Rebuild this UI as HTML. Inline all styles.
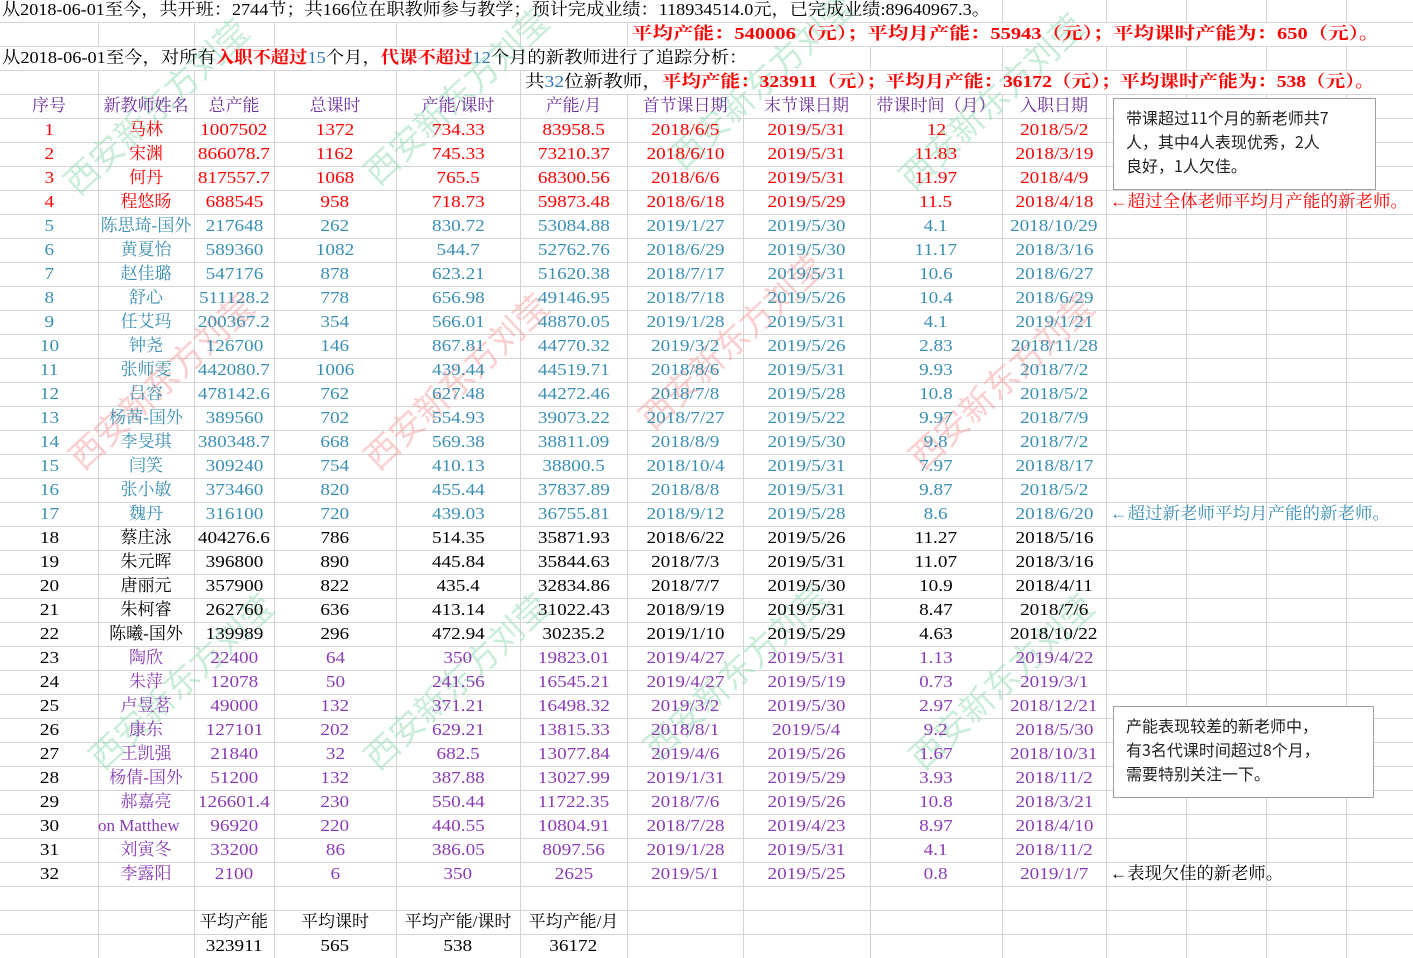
<!DOCTYPE html>
<html><head><meta charset="utf-8">
<style>
body{margin:0;width:1413px;height:958px;overflow:hidden;background:#fff;font-family:"Liberation Serif","Noto Serif CJK SC",serif;}
#sheet{position:relative;width:1413px;height:958px;overflow:hidden;}
.vl{position:absolute;top:0;width:1px;background:#d4d4d4;}
.hl{position:absolute;left:0;height:1px;background:#d4d4d4;width:1413px;}
.c{position:absolute;height:24px;line-height:24px;font-size:17px;text-align:center;white-space:nowrap;overflow:visible;}
.c span.n{display:inline-block;transform:scaleX(1.13);}
.t{position:absolute;height:24px;line-height:24px;font-size:17px;white-space:nowrap;transform-origin:0 50%;}
.wm{position:absolute;font-size:34px;white-space:nowrap;transform:translate(-50%,-50%) rotate(-43deg);font-family:"Noto Sans CJK SC",sans-serif;opacity:.55;pointer-events:none;}
.box{position:absolute;background:#fff;border:1px solid #a0a0a0;font-family:"Noto Sans CJK SC",sans-serif;font-size:16px;line-height:24px;padding:6px 12px;box-sizing:border-box;color:#222;white-space:nowrap;}
.r{color:#ff0000}.b{font-weight:bold}
</style></head><body>
<div id="sheet"></div>
<script>
const seq=["1","2","3","4","5","6","7","8","9","10","11","12","13","14","15","16","17","18","19","20","21","22","23","24","25","26","27","28","29","30","31","32"];
const names=["马林","宋渊","何丹","程悠旸","陈思琦-国外","黄夏怡","赵佳璐","舒心","任艾玛","钟尧","张师雯","吕容","杨茜-国外","李旻琪","闫笑","张小敏","魏丹","蔡庄泳","朱元晖","唐丽元","朱柯睿","陈曦-国外","陶欣","朱萍","卢昱茗","康东","王凯强","杨倩-国外","郝嘉亮","on Matthew","刘寅冬","李露阳"];
const totalOutput=["1007502","866078.7","817557.7","688545","217648","589360","547176","511128.2","200367.2","126700","442080.7","478142.6","389560","380348.7","309240","373460","316100","404276.6","396800","357900","262760","139989","22400","12078","49000","127101","21840","51200","126601.4","96920","33200","2100"];
const totalHours=["1372","1162","1068","958","262","1082","878","778","354","146","1006","762","702","668","754","820","720","786","890","822","636","296","64","50","132","202","32","132","230","220","86","6"];
const perHour=["734.33","745.33","765.5","718.73","830.72","544.7","623.21","656.98","566.01","867.81","439.44","627.48","554.93","569.38","410.13","455.44","439.03","514.35","445.84","435.4","413.14","472.94","350","241.56","371.21","629.21","682.5","387.88","550.44","440.55","386.05","350"];
const perMonth=["83958.5","73210.37","68300.56","59873.48","53084.88","52762.76","51620.38","49146.95","48870.05","44770.32","44519.71","44272.46","39073.22","38811.09","38800.5","37837.89","36755.81","35871.93","35844.63","32834.86","31022.43","30235.2","19823.01","16545.21","16498.32","13815.33","13077.84","13027.99","11722.35","10804.91","8097.56","2625"];
const firstDate=["2018/6/5","2018/6/10","2018/6/6","2018/6/18","2019/1/27","2018/6/29","2018/7/17","2018/7/18","2019/1/28","2019/3/2","2018/8/6","2018/7/8","2018/7/27","2018/8/9","2018/10/4","2018/8/8","2018/9/12","2018/6/22","2018/7/3","2018/7/7","2018/9/19","2019/1/10","2019/4/27","2019/4/27","2019/3/2","2018/8/1","2019/4/6","2019/1/31","2018/7/6","2018/7/28","2019/1/28","2019/5/1"];
const lastDate=["2019/5/31","2019/5/31","2019/5/31","2019/5/29","2019/5/30","2019/5/30","2019/5/31","2019/5/26","2019/5/31","2019/5/26","2019/5/31","2019/5/28","2019/5/22","2019/5/30","2019/5/31","2019/5/31","2019/5/28","2019/5/26","2019/5/31","2019/5/30","2019/5/31","2019/5/29","2019/5/31","2019/5/19","2019/5/30","2019/5/4","2019/5/26","2019/5/29","2019/5/26","2019/4/23","2019/5/31","2019/5/25"];
const months=["12","11.83","11.97","11.5","4.1","11.17","10.6","10.4","4.1","2.83","9.93","10.8","9.97","9.8","7.97","9.87","8.6","11.27","11.07","10.9","8.47","4.63","1.13","0.73","2.97","9.2","1.67","3.93","10.8","8.97","4.1","0.8"];
const joinDate=["2018/5/2","2018/3/19","2018/4/9","2018/4/18","2018/10/29","2018/3/16","2018/6/27","2018/6/29","2019/1/21","2018/11/28","2018/7/2","2018/5/2","2018/7/9","2018/7/2","2018/8/17","2018/5/2","2018/6/20","2018/5/16","2018/3/16","2018/4/11","2018/7/6","2018/10/22","2019/4/22","2019/3/1","2018/12/21","2018/5/30","2018/10/31","2018/11/2","2018/3/21","2018/4/10","2018/11/2","2019/1/7"];
const headers=["序号","新教师姓名","总产能","总课时","产能/课时","产能/月","首节课日期","末节课日期","带课时间（月）","入职日期"];
const avgLabels=["平均产能","平均课时","平均产能/课时","平均产能/月"];
const avgValues=["323911","565","538","36172"];

const S=document.getElementById('sheet');
const cols=[0,98,194,274,396,520,627,743,870,1002,1106,1186,1266,1346,1413];
const rowY=k=>-2+24*k;
function add(cls,html,x,y,w,color,name){
  const d=document.createElement('div');d.className=cls;d.innerHTML=html;
  d.style.left=x+'px';d.style.top=y+'px';if(w)d.style.width=w+'px';if(color)d.style.color=color;
  
  
  S.appendChild(d);return d;
}
function fit(el,target){const w=el.scrollWidth;if(w>0)el.style.transform='scaleX('+(target/w)+')';}
for(let k=1;k<40;k++){const h=document.createElement('div');h.className='hl';h.style.top=rowY(k)+'px';


S.appendChild(h);}
cols.slice(1,-1).forEach(x=>{const v=document.createElement('div');v.className='vl';v.style.left=x+'px';v.style.height='958px';


S.appendChild(v);});
function blank(x,y,w,name){const d=document.createElement('div');d.style.cssText=`position:absolute;left:${x}px;top:${y+1}px;width:${w}px;height:23px;background:#fff`;


S.appendChild(d);}
blank(0,rowY(0),1000,'merged-title-bg');
blank(630,rowY(1),770,'merged-avg-bg');
blank(0,rowY(2),750,'merged-desc-bg');
blank(522,rowY(3),860,'merged-new-avg-bg');

const wmPos=[[155,105,'#9fe0bb'],[455,95,'#9fe0bb'],[760,80,'#9fe0bb'],[990,100,'#9fe0bb'],
[160,380,'#f6a8a8'],[455,380,'#f6a8a8'],[730,340,'#f6a8a8'],[1000,380,'#f6a8a8'],
[180,680,'#9fe0bb'],[455,680,'#9fe0bb'],[735,670,'#9fe0bb'],[1000,680,'#9fe0bb']];
wmPos.forEach(p=>{add('wm','西安新东方刘莹',p[0],p[1],0,p[2],'watermark');});

fit(add('t','从2018-06-01至今，共开班：2744节；共166位在职教师参与教学；预计完成业绩：118934514.0元，已完成业绩:89640967.3。',2,rowY(0),0,'#000','summary-line'),988);
fit(add('t','<span class="r b">平均产能：540006（元）；平均月产能：55943（元）；平均课时产能为：650（元）。</span>',632,rowY(1),0,null,'overall-average-line'),748);
fit(add('t','从2018-06-01至今，对所有<span class="r b">入职不超过</span><span style="color:#2e75b6">15</span>个月，<span class="r b">代课不超过</span><span style="color:#2e75b6">12</span>个月的新教师进行了追踪分析：',2,rowY(2),0,'#000','analysis-description'),745);
fit(add('t','共<span style="color:#2e75b6">32</span>位新教师，<span class="r b">平均产能：323911（元）；平均月产能：36172（元）；平均课时产能为：538（元）。</span>',525,rowY(3),0,'#000','new-teacher-average-line'),850);

headers.forEach((h,i)=>{add('c',h,cols[i],rowY(4),cols[i+1]-cols[i],'#7030a0','header-'+i);});
const data=[seq,names,totalOutput,totalHours,perHour,perMonth,firstDate,lastDate,months,joinDate];
for(let r=0;r<32;r++){
  let col= r<4?'#ff0000': r<17?'#3a8fb2': r<22?'#000':'#8a3cb4';
  data.forEach((arr,i)=>{
    let c=col; if(i==0&&r>=22)c='#000';
    const html = i==1 ? arr[r] : '<span class="n">'+arr[r]+'</span>';
    const d=add('c',html,cols[i],rowY(5+r),cols[i+1]-cols[i],c,'cell-r'+(r+1)+'-c'+i);
    if(i==1&&arr[r]=='on Matthew'){d.style.textAlign='left';d.style.overflow='hidden';}
  });
}
avgLabels.forEach((l,i)=>add('c',l,cols[i+2],rowY(38),cols[i+3]-cols[i+2],'#000','avg-label-'+i));
avgValues.forEach((l,i)=>add('c','<span class="n">'+l+'</span>',cols[i+2],rowY(39),cols[i+3]-cols[i+2],'#000','avg-value-'+i));

fit(add('t','←超过全体老师平均月产能的新老师。',1110,rowY(8),0,'#ff0000','note-above-all-average'),298);
fit(add('t','←超过新老师平均月产能的新老师。',1110,rowY(21),0,'#3a8fb2','note-above-new-average'),280);
fit(add('t','←表现欠佳的新老师。',1110,rowY(36),0,'#000','note-underperforming'),173);

const b1=add('box','带课超过11个月的新老师共7<br>人，其中4人表现优秀，2人<br>良好，1人欠佳。',1113,98,263,null,'textbox-senior-summary');b1.style.height='92px';
const b2=add('box','产能表现较差的新老师中，<br>有3名代课时间超过8个月，<br>需要特别关注一下。',1113,706,261,null,'textbox-low-performance');b2.style.height='92px';
</script>
</body></html>
